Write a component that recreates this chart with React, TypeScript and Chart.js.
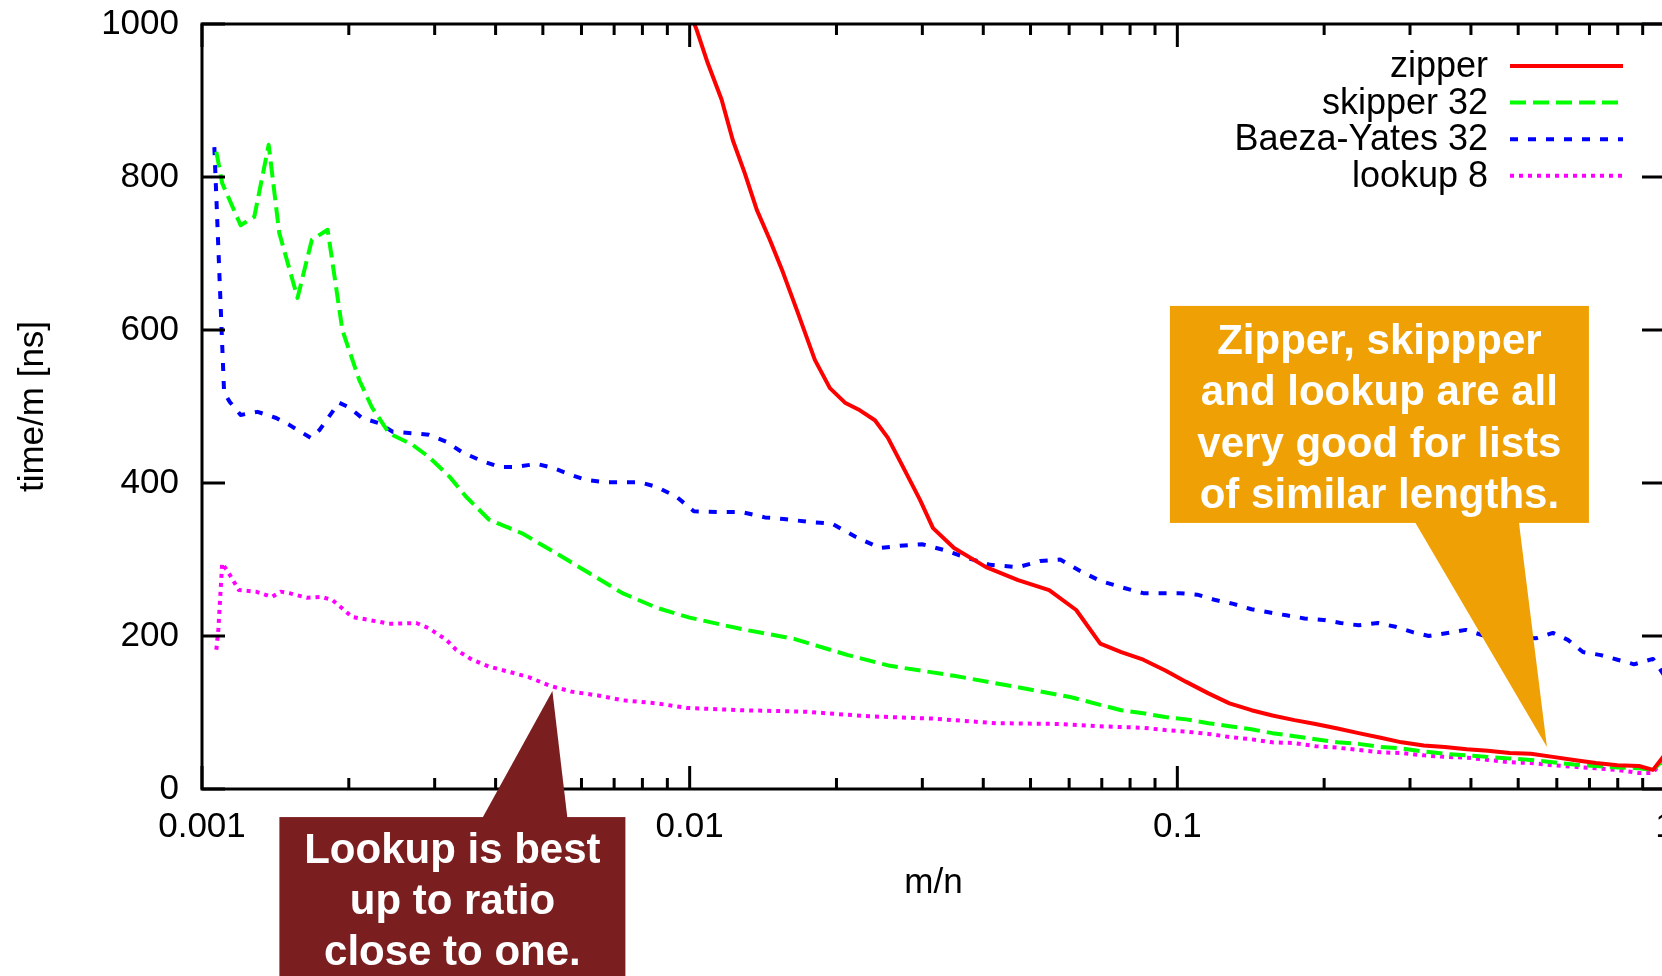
import React, { useEffect, useRef } from 'react';
import { Chart, registerables } from 'chart.js';

Chart.register(...registerables);

const FONT = '"Liberation Sans", Arial, Helvetica, sans-serif';

// ---- axis ticks ----
const xTickValues = [0.001, 0.01, 0.1, 1];
const xTickLabels = ['0.001', '0.01', '0.1', '1'];
const yTickValues = [0, 200, 400, 600, 800, 1000];

// ---- series names ----
const seriesLabels = ['zipper', 'skipper 32', 'Baeza-Yates 32', 'lookup 8'];

// ---- zipper ----
const zipperX = [0.00954, 0.01034, 0.01089, 0.01163, 0.01226, 0.01297, 0.01373, 0.0146, 0.01552, 0.01659,
  0.01806, 0.01939, 0.02082, 0.02234, 0.02398, 0.0255, 0.02738, 0.02967, 0.03155, 0.03484,
  0.04053, 0.04715, 0.0546, 0.06203, 0.06949, 0.07674, 0.08515, 0.09449, 0.1043, 0.1158,
  0.1279, 0.1419, 0.1567, 0.1739, 0.192, 0.2131, 0.2353, 0.2612, 0.2884, 0.32,
  0.3535, 0.3922, 0.4331, 0.4805, 0.5306, 0.5889, 0.6504, 0.7217, 0.799, 0.8846, 0.9449, 1.0];
const zipperY = [1050, 992, 949, 901, 848, 805, 757, 718, 676, 626,
  561, 524, 505, 495, 482, 459, 421, 378, 341, 315,
  290, 273, 260, 234, 190, 179, 169, 155, 140, 125,
  112, 103, 96, 90, 85, 79, 73, 67, 61, 57,
  55, 52, 50, 47, 46, 42, 38, 34, 31, 30, 25, 45];

// ---- skipper 32 ----
const skipperX = [0.00107, 0.0011, 0.0012, 0.00128, 0.00137, 0.00144, 0.00157, 0.00168, 0.00181, 0.00194,
  0.0021, 0.00223, 0.00242, 0.0027, 0.00292, 0.00322, 0.00348, 0.00388, 0.00454, 0.00533,
  0.00623, 0.00728, 0.00855, 0.01, 0.01279, 0.01643, 0.02112, 0.02575, 0.03484, 0.04715,
  0.06058, 0.06949, 0.07674, 0.08515, 0.09449, 0.1043, 0.1158, 0.1279, 0.1419, 0.1567,
  0.1739, 0.192, 0.2131, 0.2353, 0.2612, 0.2884, 0.32, 0.3535, 0.3922, 0.4331,
  0.4805, 0.5306, 0.5889, 0.6504, 0.7217, 0.799, 0.8846, 0.9449, 1.0];
const skipperY = [833, 792, 737, 748, 842, 727, 642, 718, 731, 600,
  535, 499, 465, 450, 434, 408, 382, 352, 334, 308,
  282, 256, 237, 224, 209, 196, 175, 161, 148, 133,
  120, 110, 103, 99, 94, 91, 86, 82, 78, 73,
  69, 65, 61, 59, 55, 53, 49, 46, 44, 42,
  40, 38, 35, 32, 30, 28, 27, 25, 40];

// ---- Baeza-Yates 32 ----
const baezaX = [0.00106, 0.00111, 0.00114, 0.0012, 0.0013, 0.00142, 0.00151, 0.00167, 0.00174, 0.00191,
  0.002, 0.00213, 0.00231, 0.00246, 0.0027, 0.00292, 0.00317, 0.00342, 0.00371, 0.00407,
  0.00441, 0.00485, 0.00523, 0.00575, 0.00614, 0.00669, 0.00728, 0.00789, 0.00855, 0.0094,
  0.0102, 0.01152, 0.01279, 0.01426, 0.0156, 0.01764, 0.01957, 0.02183, 0.02456, 0.02699,
  0.02995, 0.03339, 0.0367, 0.04131, 0.04715, 0.05232, 0.05751, 0.06322, 0.06949, 0.07747,
  0.08515, 0.101, 0.1099, 0.1197, 0.1303, 0.1419, 0.1538, 0.1674, 0.1823, 0.1994,
  0.2161, 0.2353, 0.2575, 0.2803, 0.3038, 0.3277, 0.3584, 0.3903, 0.423, 0.4605,
  0.5433, 0.5889, 0.6322, 0.6787, 0.739, 0.799, 0.8639, 0.9449, 1.0];
const baezaY = [839, 518, 506, 489, 493, 485, 476, 459, 469, 505,
  499, 485, 478, 467, 465, 463, 454, 440, 430, 421,
  421, 425, 420, 410, 404, 401, 401, 401, 395, 382,
  363, 362, 362, 355, 353, 349, 347, 330, 315, 318,
  320, 312, 303, 293, 290, 298, 300, 285, 272, 263,
  256, 256, 254, 247, 242, 235, 231, 227, 223, 221,
  217, 214, 217, 212, 205, 200, 204, 208, 201, 199,
  197, 204, 195, 179, 175, 169, 163, 170, 147];

// ---- lookup 8 ----
const lookupX = [0.00107, 0.00108, 0.0011, 0.00114, 0.00119, 0.00129, 0.00139, 0.00145, 0.00151, 0.00164,
  0.00176, 0.00185, 0.00194, 0.00203, 0.0022, 0.00242, 0.00275, 0.00292, 0.00317, 0.00332,
  0.00358, 0.00388, 0.00427, 0.00469, 0.00516, 0.00575, 0.00653, 0.00728, 0.00855, 0.00986,
  0.01279, 0.0173, 0.02331, 0.03155, 0.04249, 0.05751, 0.06949, 0.07674, 0.08515, 0.09449,
  0.1043, 0.1158, 0.1279, 0.1419, 0.1567, 0.1739, 0.192, 0.2131, 0.2353, 0.2612,
  0.2884, 0.32, 0.3535, 0.3922, 0.4331, 0.4805, 0.5306, 0.5889, 0.6504, 0.7217,
  0.799, 0.8846, 0.9449, 1.0];
const lookupY = [182, 208, 295, 280, 260, 258, 251, 258, 256, 250,
  251, 247, 236, 225, 221, 216, 217, 210, 195, 182,
  169, 160, 153, 146, 135, 127, 122, 116, 112, 106,
  103, 101, 95, 92, 86, 85, 82, 81, 80, 77,
  75, 72, 68, 65, 61, 60, 56, 54, 51, 48,
  47, 44, 42, 41, 38, 35, 34, 31, 29, 27,
  25, 21, 21, 42];

// ---- callouts ----
const calloutTexts = [
  ['Lookup is best', 'up to ratio', 'close to one.'],
  ['Zipper, skippper', 'and lookup are all', 'very good for lists', 'of similar lengths.'],
];
const calloutAnchorX = [0.00523, 0.5726];
const calloutAnchorY = [128, 55];
const calloutColors = ['#7b1e1f', '#efa004'];

const toPoints = (xs: number[], ys: number[]) => xs.map((x, i) => ({ x, y: ys[i] }));

const isPow10 = (v: number) => {
  const l = Math.log10(v);
  return Math.abs(l - Math.round(l)) < 1e-7;
};
const isIntMantissa = (v: number) => {
  const e = Math.floor(Math.log10(v) + 1e-9);
  const m = v / Math.pow(10, e);
  return Math.abs(m - Math.round(m)) < 1e-6;
};

const framePlugin = {
  id: 'gnuplotFrame',
  afterDatasetsDraw(chart: any) {
    const { ctx, chartArea: a, scales } = chart;
    const xs = scales.x;
    const ys = scales.y;
    ctx.save();
    ctx.strokeStyle = '#000';
    ctx.lineWidth = 3;
    ctx.lineCap = 'butt';
    ctx.setLineDash([]);
    ctx.beginPath();
    for (const t of xs.ticks) {
      if (!isIntMantissa(t.value)) continue;
      const px = xs.getPixelForValue(t.value);
      const len = isPow10(t.value) ? 23 : 11;
      ctx.moveTo(px, a.bottom);
      ctx.lineTo(px, a.bottom - len);
      ctx.moveTo(px, a.top);
      ctx.lineTo(px, a.top + len);
    }
    for (const t of ys.ticks) {
      const py = ys.getPixelForValue(t.value);
      ctx.moveTo(a.left, py);
      ctx.lineTo(a.left + 23, py);
      ctx.moveTo(a.right, py);
      ctx.lineTo(a.right - 23, py);
    }
    ctx.stroke();
    ctx.lineJoin = 'miter';
    ctx.strokeRect(a.left, a.top, a.right - a.left, a.bottom - a.top);

    // legend (gnuplot style: right-aligned text, sample line after)
    ctx.font = `36px ${FONT}`;
    ctx.textAlign = 'right';
    ctx.textBaseline = 'alphabetic';
    chart.data.datasets.forEach((ds: any, i: number) => {
      const ly = a.top + 42 + i * 36.6;
      ctx.fillStyle = '#000';
      ctx.fillText(ds.label, a.right - 177, ly + 11);
      ctx.strokeStyle = ds.borderColor;
      ctx.lineWidth = 4;
      ctx.setLineDash(ds.borderDash || []);
      ctx.beginPath();
      ctx.moveTo(a.right - 155, ly);
      ctx.lineTo(a.right - 42, ly);
      ctx.stroke();
    });
    ctx.restore();
  },
};

const calloutPlugin = {
  id: 'callouts',
  afterDraw(chart: any) {
    const { ctx, scales } = chart;
    const xs = scales.x;
    const ys = scales.y;
    ctx.save();
    ctx.font = `bold 42px ${FONT}`;
    ctx.textAlign = 'center';
    ctx.textBaseline = 'alphabetic';

    // brown callout (box below, pointing up)
    {
      const ax = xs.getPixelForValue(calloutAnchorX[0]);
      const ay = ys.getPixelForValue(calloutAnchorY[0]);
      const l = ax - 273, r = ax + 73, t = ay + 126, b = ay + 420;
      ctx.fillStyle = calloutColors[0];
      ctx.beginPath();
      ctx.moveTo(ax - 70, t + 1);
      ctx.lineTo(ax, ay);
      ctx.lineTo(ax + 15, t + 1);
      ctx.closePath();
      ctx.fill();
      ctx.fillRect(l, t, r - l, b - t);
      ctx.fillStyle = '#fff';
      calloutTexts[0].forEach((s, i) => ctx.fillText(s, (l + r) / 2, t + 46 + i * 51));
    }
    // orange callout (box above, pointing down)
    {
      const ax = xs.getPixelForValue(calloutAnchorX[1]);
      const ay = ys.getPixelForValue(calloutAnchorY[1]);
      const l = ax - 377, r = ax + 42, t = ay - 441, b = ay - 224;
      ctx.fillStyle = calloutColors[1];
      ctx.beginPath();
      ctx.moveTo(ax - 132, b - 1);
      ctx.lineTo(ax, ay);
      ctx.lineTo(ax - 28, b - 1);
      ctx.closePath();
      ctx.fill();
      ctx.fillRect(l, t, r - l, b - t);
      ctx.fillStyle = '#fff';
      calloutTexts[1].forEach((s, i) => ctx.fillText(s, (l + r) / 2, t + 48 + i * 51.3));
    }
    ctx.restore();
  },
};

export default function App() {
  const ref = useRef<HTMLCanvasElement | null>(null);

  useEffect(() => {
    if (!ref.current) return;
    Chart.defaults.font.family = FONT;
    Chart.defaults.color = '#000';

    const common = {
      pointRadius: 0,
      pointHoverRadius: 0,
      borderWidth: 4,
      tension: 0,
      fill: false,
      clip: 0,
      borderCapStyle: 'butt',
      borderJoinStyle: 'round',
    };

    const chart = new Chart(ref.current, {
      type: 'line',
      data: {
        datasets: [
          { ...common, label: seriesLabels[0], data: toPoints(zipperX, zipperY), borderColor: '#ff0000', backgroundColor: '#ff0000', borderDash: [] },
          { ...common, label: seriesLabels[1], data: toPoints(skipperX, skipperY), borderColor: '#00ff00', backgroundColor: '#00ff00', borderDash: [16, 7] },
          { ...common, label: seriesLabels[2], data: toPoints(baezaX, baezaY), borderColor: '#0000ff', backgroundColor: '#0000ff', borderDash: [8, 10] },
          { ...common, label: seriesLabels[3], data: toPoints(lookupX, lookupY), borderColor: '#ff00ff', backgroundColor: '#ff00ff', borderDash: [4, 5] },
        ] as any,
      },
      options: {
        responsive: false,
        animation: false,
        devicePixelRatio: 1,
        events: [],
        layout: { padding: { left: 0, top: 24, right: 35, bottom: 0 } },
        plugins: {
          legend: { display: false },
          tooltip: { enabled: false },
          title: { display: false },
        },
        scales: {
          x: {
            type: 'logarithmic',
            min: 0.001,
            max: 1,
            grid: { display: false, drawTicks: false },
            border: { display: false },
            ticks: {
              autoSkip: false,
              maxRotation: 0,
              minRotation: 0,
              padding: 17,
              color: '#000',
              font: { size: 35, family: FONT },
              callback: (v: any) => {
                const idx = xTickValues.findIndex((t) => Math.abs(Math.log10(t) - Math.log10(Number(v))) < 1e-7);
                return idx >= 0 ? xTickLabels[idx] : '';
              },
            },
            title: {
              display: true,
              text: 'm/n',
              color: '#000',
              font: { size: 35, family: FONT },
              padding: { top: 0, bottom: 72 },
            },
            afterFit: (s: any) => {
              s.height = 187;
              s.paddingLeft = 0;
              s.paddingRight = 0;
            },
          },
          y: {
            type: 'linear',
            min: 0,
            max: 1000,
            grid: { display: false, drawTicks: false },
            border: { display: false },
            afterBuildTicks: (s: any) => { s.ticks = yTickValues.map((v) => ({ value: v })); },
            ticks: {
              padding: 23,
              color: '#000',
              font: { size: 35, family: FONT },
              callback: (v: any) => String(v),
            },
            title: {
              display: true,
              text: 'time/m [ns]',
              color: '#000',
              font: { size: 35, family: FONT },
              padding: { top: 12, bottom: 0 },
            },
            afterFit: (s: any) => {
              s.width = 202;
              s.paddingTop = 0;
              s.paddingBottom = 0;
            },
          },
        },
      } as any,
      plugins: [framePlugin, calloutPlugin],
    });

    return () => chart.destroy();
  }, []);

  return (
    <div style={{ position: 'fixed', left: 0, top: 0, width: 1662, height: 976, overflow: 'hidden', background: '#fff' }}>
      <canvas ref={ref} width={1700} height={976} style={{ display: 'block', width: 1700, height: 976 }} />
    </div>
  );
}
